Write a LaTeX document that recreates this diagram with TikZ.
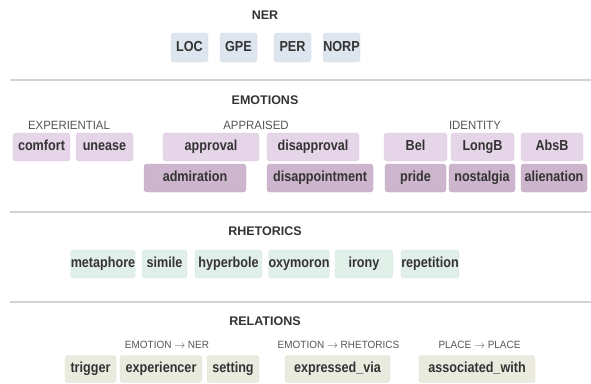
\documentclass[tikz,border=0pt]{standalone}
\usepackage{fontspec}
\usepackage{tikz}
\setmainfont{Liberation Sans}
\newfontfamily\tagfont[FakeStretch=0.87]{Liberation Sans}
\newfontfamily\labelfont[FakeStretch=0.95]{Liberation Sans}
\definecolor{inkdark}{HTML}{333333}
\definecolor{inkgray}{HTML}{555555}
\definecolor{rulegray}{HTML}{D3D3D3}
\definecolor{nerfill}{HTML}{DDE6EF}
\definecolor{nerline}{HTML}{D0DAE4}
\definecolor{emofill}{HTML}{E6D4E8}
\definecolor{emoline}{HTML}{DCC8DE}
\definecolor{emodark}{HTML}{CDB6CD}
\definecolor{emodarkline}{HTML}{BFA6BF}
\definecolor{rhetfill}{HTML}{E0EFE8}
\definecolor{rhetline}{HTML}{D3E6DC}
\definecolor{relfill}{HTML}{EBEADF}
\definecolor{relline}{HTML}{DFDDD0}
\tikzset{tag/.style = {rounded corners = 3pt, inner sep = 0, text = inkdark,
                       text height = 10.5pt, text depth = 3pt,
                       font = \tagfont\bfseries\fontsize{14.5}{15}\selectfont}}
\tikzset{nertag/.style = {tag, fill = nerfill, draw = nerline,
                          minimum width = #1, minimum height = 29}}
\tikzset{emotag/.style = {tag, fill = emofill, draw = emoline,
                          minimum width = #1, minimum height = 28}}
\tikzset{emodarktag/.style = {tag, fill = emodark, draw = emodarkline,
                              minimum width = #1, minimum height = 28}}
\tikzset{rhettag/.style = {tag, fill = rhetfill, draw = rhetline,
                           minimum width = #1, minimum height = 28}}
\tikzset{reltag/.style = {tag, fill = relfill, draw = relline,
                          minimum width = #1, minimum height = 27}}
\tikzset{heading/.style = {text = inkdark, inner sep = 0,
                           font = \bfseries\fontsize{12.5}{13}\selectfont}}
\tikzset{grouplabel/.style = {text = inkgray, inner sep = 0,
                              font = \labelfont\fontsize{12}{13}\selectfont}}
\tikzset{pairlabel/.style = {text = inkgray, inner sep = 0,
                             font = \labelfont\fontsize{10.5}{12}\selectfont}}
\tikzset{divider/.style = {draw = rulegray, line width = 1.3pt}}

\begin{document}
\begin{tikzpicture}[x = 1pt, y = -1pt]
      \useasboundingbox (0, 0) rectangle (591, 383);

      \node [heading] (nerhead) at (265, 15) {NER};
      \node [nertag=37] (loc) at (189.5, 47.5) {LOC};
      \node [nertag=37] (gpe) at (238.5, 47.5) {GPE};
      \node [nertag=37] (per) at (292.5, 47.5) {PER};
      \node [nertag=37] (norp) at (341.5, 47.5) {NORP};

      \draw [divider] (10, 80) -- (591, 80);

      \node [heading] (emohead) at (265, 100) {EMOTIONS};
      \node [grouplabel] (experiential) at (69, 125) {EXPERIENTIAL};
      \node [grouplabel] (appraised) at (256, 125) {APPRAISED};
      \node [grouplabel] (identity) at (475, 125) {IDENTITY};

      \node [emotag=57] (comfort) at (41.5, 147) {comfort};
      \node [emotag=57] (unease) at (104.5, 147) {unease};
      \node [emotag=96] (approval) at (211, 147) {approval};
      \node [emotag=92] (disapproval) at (313, 147) {disapproval};
      \node [emotag=63] (bel) at (415.5, 147) {Bel};
      \node [emotag=63] (longb) at (482.5, 147) {LongB};
      \node [emotag=62] (absb) at (552, 147) {AbsB};

      \node [emodarktag=102] (admiration) at (195, 178) {admiration};
      \node [emodarktag=106] (disappointment) at (320, 178) {disappointment};
      \node [emodarktag=61] (pride) at (415.5, 178) {pride};
      \node [emodarktag=66] (nostalgia) at (482, 178) {nostalgia};
      \node [emodarktag=66] (alienation) at (554, 178) {alienation};

      \draw [divider] (10, 212) -- (591, 212);

      \node [heading] (rhethead) at (265, 231) {RHETORICS};
      \node [rhettag=62] (metaphore) at (103, 264) {metaphore};
      \node [rhettag=45] (simile) at (164.5, 264) {simile};
      \node [rhettag=67] (hyperbole) at (228.5, 264) {hyperbole};
      \node [rhettag=58] (oxymoron) at (299, 264) {oxymoron};
      \node [rhettag=58] (irony) at (364, 264) {irony};
      \node [rhettag=58] (repetition) at (430, 264) {repetition};

      \draw [divider] (10, 302) -- (591, 302);

      \node [heading] (relhead) at (265, 321) {RELATIONS};
      \node [pairlabel] (emoner) at (167, 345) {EMOTION $\rightarrow$ NER};
      \node [pairlabel] (emorhet) at (338.5, 345) {EMOTION $\rightarrow$ RHETORICS};
      \node [pairlabel] (placeplace) at (479.5, 345) {PLACE $\rightarrow$ PLACE};

      \node [reltag=51] (trigger) at (90.5, 369) {trigger};
      \node [reltag=82] (experiencer) at (161, 369) {experiencer};
      \node [reltag=52] (setting) at (233, 369) {setting};
      \node [reltag=105] (expressedvia) at (337.5, 369) {expressed\_via};
      \node [reltag=116] (associatedwith) at (477, 369) {associated\_with};
    \end{tikzpicture}
\end{document}
